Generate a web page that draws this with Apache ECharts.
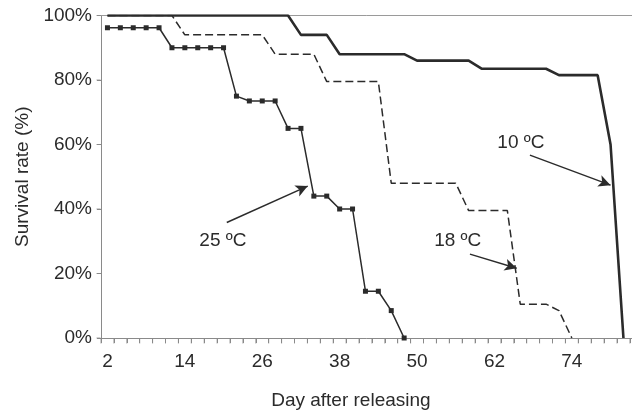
<!DOCTYPE html>
<html>
<head>
<meta charset="utf-8">
<script src="https://cdn.jsdelivr.net/npm/echarts@6/dist/echarts.min.js"></script>
<style>
  html, body { margin: 0; padding: 0; background: #fff; }
  #chart { width: 632px; height: 414px; }
</style>
</head>
<body>
<div id="chart"></div>
<script>
// category bands on the bottom axis: every 2 days
const dayLabels = []
for (let d = 2; d <= 84; d += 2) dayLabels.push(String(d))
// band edges where the small x ticks sit
const tickDays = []
for (let d = 1; d <= 85; d += 2) tickDays.push(d)
const yTicks = [0, 20, 40, 60, 80, 100]

// 25 ºC (with markers)
const days25 = [2, 4, 6, 8, 10, 12, 14, 16, 18, 20, 22, 24, 26, 28, 30, 32, 34, 36, 38, 40, 42, 44, 46, 48]
const surv25 = [96.2, 96.2, 96.2, 96.2, 96.2, 90, 90, 90, 90, 90, 75, 73.5, 73.5, 73.5, 65, 65, 44, 44, 40, 40, 14.5, 14.5, 8.5, 0]

// 18 ºC (dashed)
const days18 = [2, 12, 14, 26, 28, 34, 36, 44, 46, 56, 58, 64, 66, 70, 72, 74]
const surv18 = [100, 100, 94, 94, 88, 88, 79.5, 79.5, 48, 48, 39.5, 39.5, 10.5, 10.5, 8.5, 0]

// 10 ºC (thick solid)
const days10 = [2, 30, 32, 36, 38, 48, 50, 58, 60, 70, 72, 78, 80, 82]
const surv10 = [100, 100, 94, 94, 88, 88, 86, 86, 83.5, 83.5, 81.5, 81.5, 60, 0]

// annotation text + arrow (in day / % units)
const note25 = { text: '25 ºC', at: [19.9, 30.1], from: [20.5, 35.8], to: [33.05, 47.1] }
const note18 = { text: '18 ºC', at: [56.3, 30.2], from: [58.2, 26], to: [65.45, 21.6] }
const note10 = { text: '10 ºC', at: [66.1, 60.5], from: [67.5, 56.7], to: [80, 47.4] }

const FONT = 'Liberation Sans, Arial, sans-serif'
const INK = '#2b2b2b'
const AXIS = '#8a8a8a'

const zip = (xs, ys) => xs.map((x, i) => [x, ys[i]])

const noteParts = (n) => ({
  markPoint: {
    silent: true,
    symbol: 'circle',
    symbolSize: 1,
    itemStyle: { color: 'rgba(0,0,0,0)' },
    label: { show: true, position: 'inside', formatter: n.text, color: INK, fontSize: 19, fontFamily: FONT },
    data: [{ coord: n.at }]
  },
  markLine: {
    silent: true,
    symbol: ['none', 'arrow'],
    symbolSize: [9, 12],
    lineStyle: { type: 'solid', color: INK, width: 1.5 },
    label: { show: false },
    data: [[{ coord: n.from }, { coord: n.to }]]
  }
})

const chart = echarts.init(document.getElementById('chart'))

// plot runs past the right edge of the picture (cropped in the original)
chart.setOption({
  animation: false,
  textStyle: { fontFamily: FONT },
  grid: { left: 101, width: 541.8, top: 15.5, bottom: 76, outerBoundsMode: 'none', containLabel: false },
  xAxis: [{
    type: 'category',
    data: dayLabels,
    boundaryGap: true,
    position: 'bottom',
    name: 'Day after releasing',
    nameLocation: 'middle',
    nameGap: 53,
    nameTextStyle: { color: INK, fontSize: 19, fontFamily: FONT, padding: [0, 42, 0, 0] },
    axisLine: { show: true, onZero: false, lineStyle: { color: AXIS, width: 1 } },
    axisTick: { show: true, interval: 0, length: 5, lineStyle: { color: AXIS, width: 1 } },
    axisLabel: { interval: 5, margin: 14, color: INK, fontSize: 19, fontFamily: FONT },
    splitLine: { show: false }
  }, {
    // hidden day scale the series are drawn on; its line is the top border
    type: 'value',
    min: 1,
    max: 85,
    position: 'top',
    axisLine: { show: true, onZero: false, lineStyle: { color: '#9a9a9a', width: 1 } },
    axisTick: { show: false },
    axisLabel: { show: false },
    splitLine: { show: false }
  }],
  yAxis: {
    type: 'value',
    min: yTicks[0],
    max: yTicks[yTicks.length - 1],
    interval: 20,
    name: 'Survival rate (%)',
    nameLocation: 'middle',
    nameGap: 65,
    nameTextStyle: { color: INK, fontSize: 19, fontFamily: FONT },
    axisLine: { show: true, onZero: false, lineStyle: { color: AXIS, width: 1 } },
    axisTick: { show: true, length: 4, lineStyle: { color: AXIS } },
    axisLabel: { margin: 9, color: INK, fontSize: 19, fontFamily: FONT, formatter: '{value}%', padding: [9, 0, 0, 0] },
    splitLine: { show: false }
  },
  series: [{
    // small outward ticks under the day axis
    type: 'scatter',
    xAxisIndex: 1,
    silent: true,
    clip: false,
    data: tickDays.map(d => [d, 0]),
    symbol: 'rect',
    symbolSize: [1, 5],
    symbolOffset: [0, 3],
    itemStyle: { color: AXIS },
    z: 1
  }, {
    // outward ticks left of the % axis
    type: 'scatter',
    xAxisIndex: 1,
    silent: true,
    clip: false,
    data: yTicks.map(v => [1, v]),
    symbol: 'rect',
    symbolSize: [4, 1],
    symbolOffset: [-2.5, 0],
    itemStyle: { color: AXIS },
    z: 1
  }, {
    name: '10 ºC',
    type: 'line',
    xAxisIndex: 1,
    data: zip(days10, surv10),
    showSymbol: false,
    lineStyle: { color: INK, width: 2.6 },
    ...noteParts(note10)
  }, {
    name: '18 ºC',
    type: 'line',
    xAxisIndex: 1,
    data: zip(days18, surv18),
    showSymbol: false,
    lineStyle: { color: INK, width: 1.5, type: [8, 4] },
    ...noteParts(note18)
  }, {
    name: '25 ºC',
    type: 'line',
    xAxisIndex: 1,
    data: zip(days25, surv25),
    symbol: 'rect',
    symbolSize: 5,
    itemStyle: { color: INK },
    lineStyle: { color: INK, width: 1.5 },
    ...noteParts(note25)
  }]
})
</script>
</body>
</html>
